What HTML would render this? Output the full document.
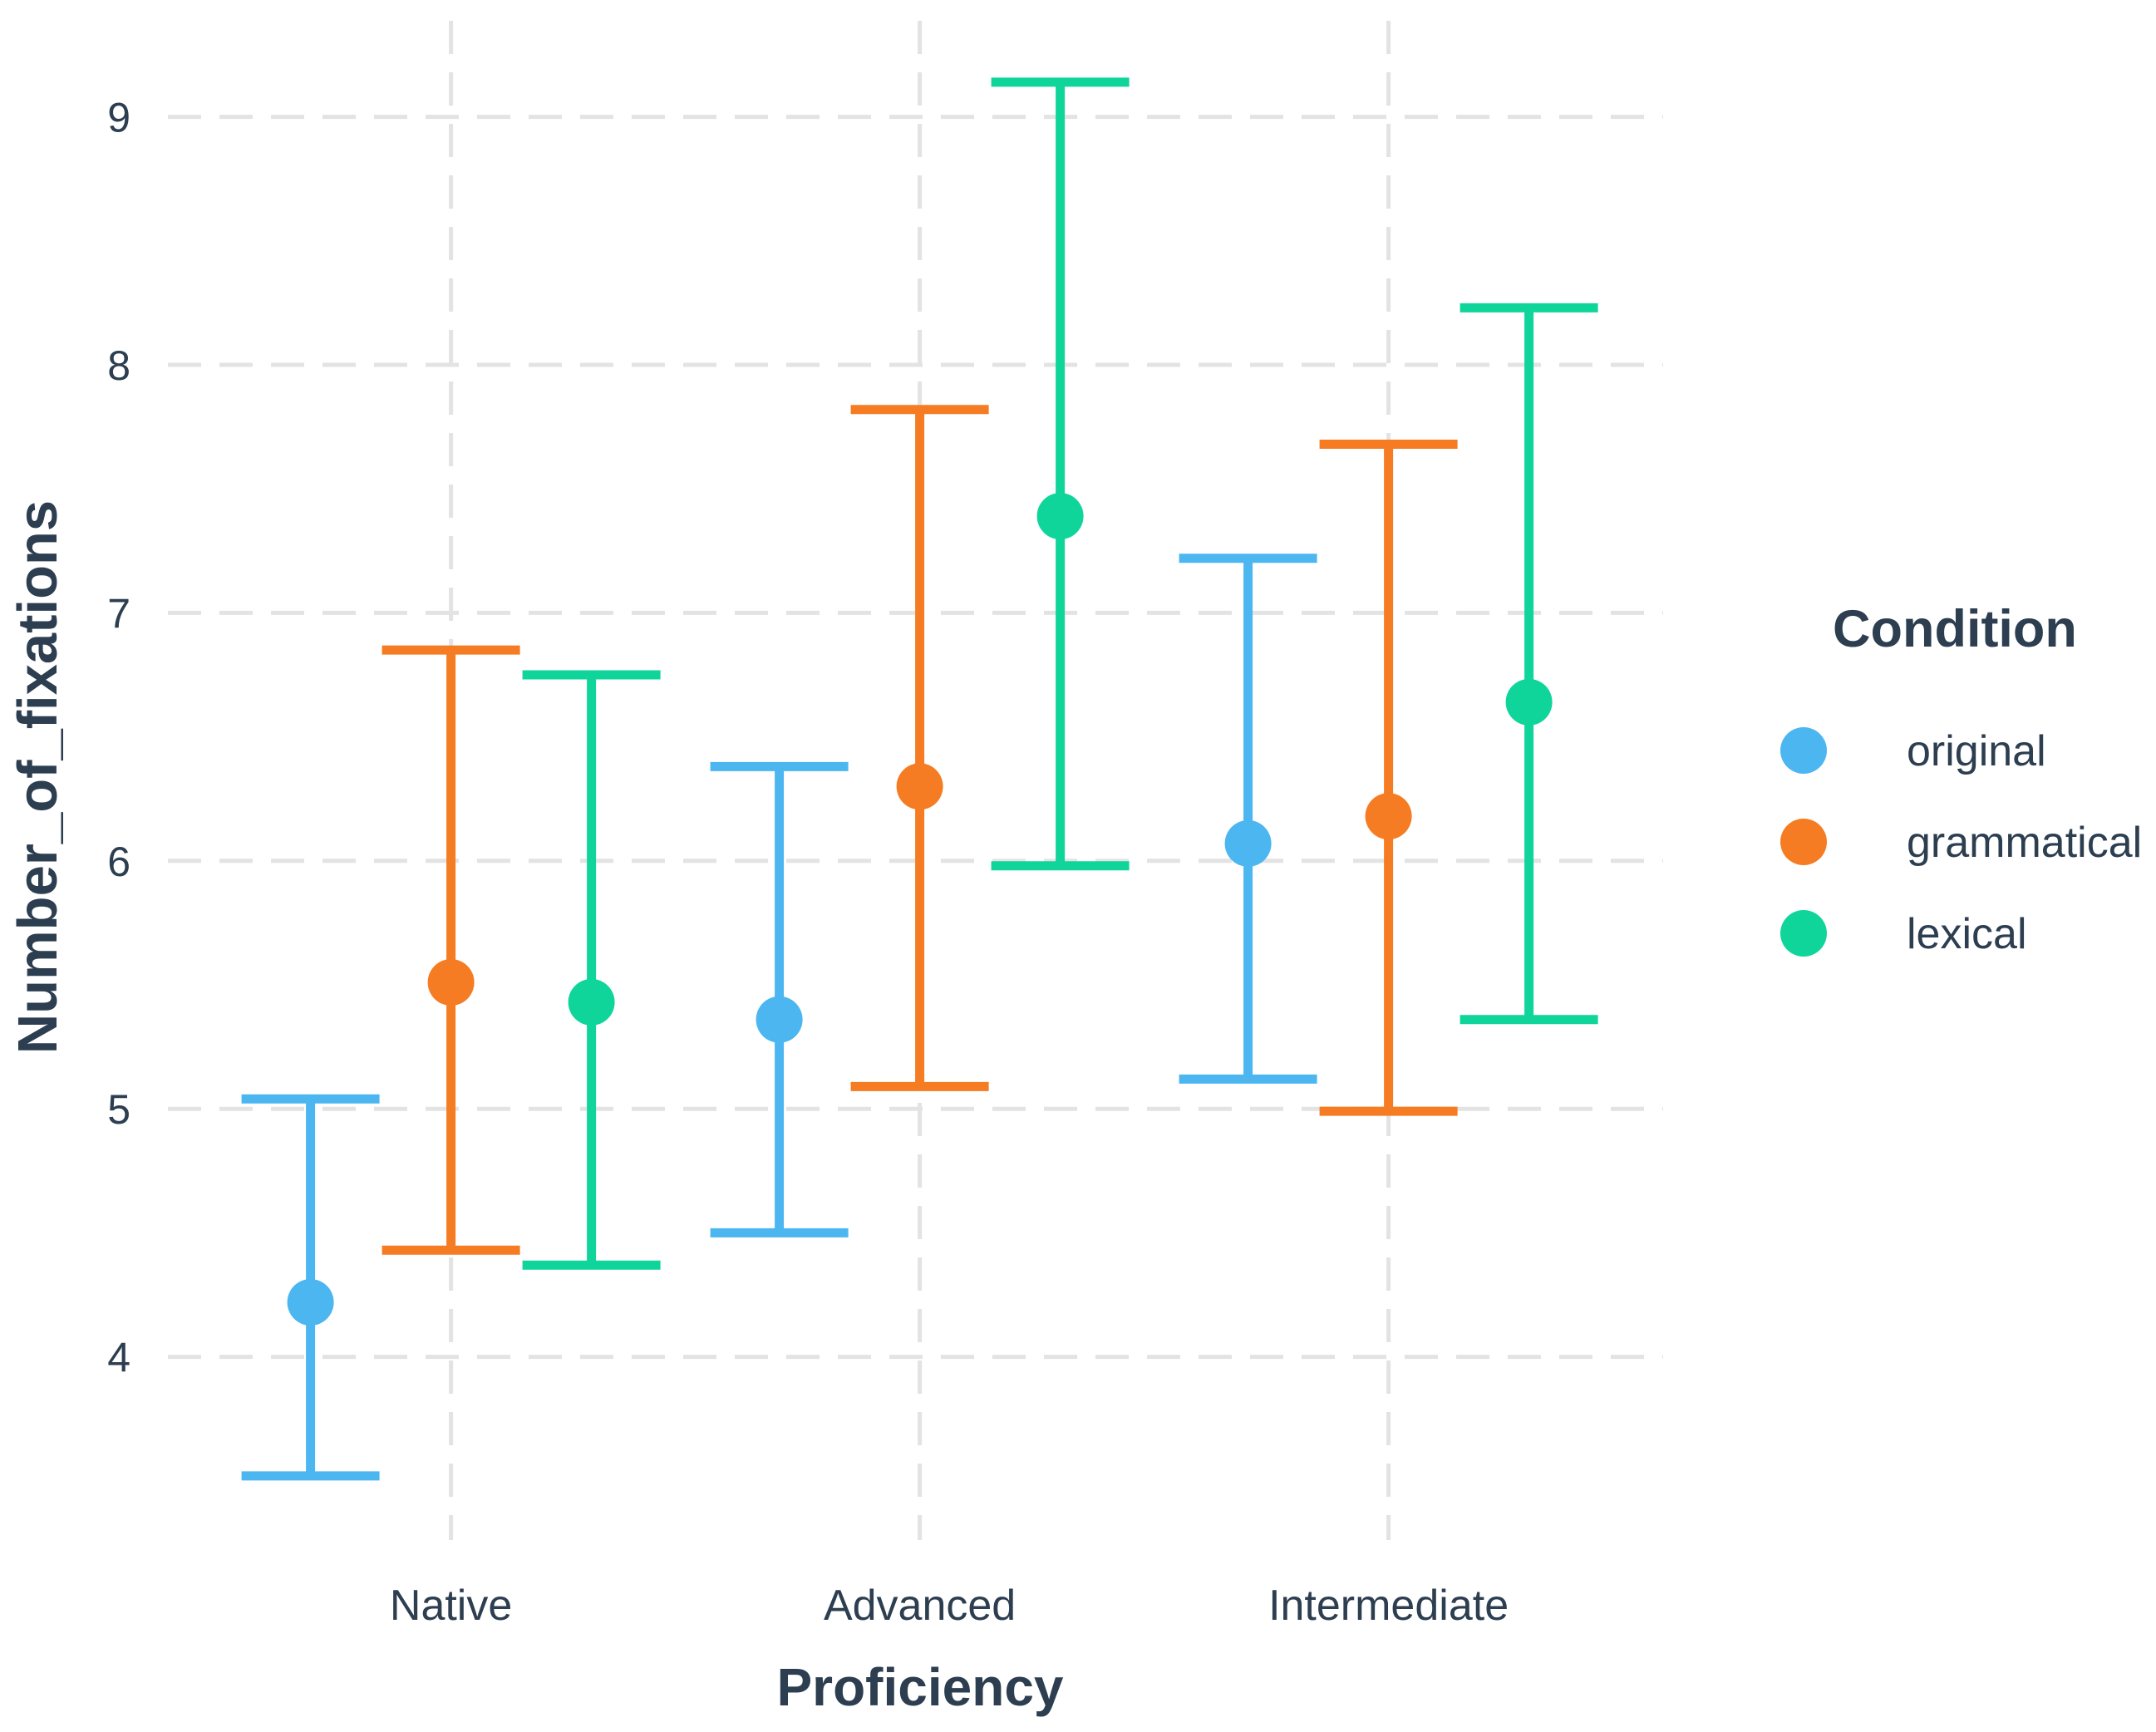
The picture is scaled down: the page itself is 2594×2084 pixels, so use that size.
<!DOCTYPE html>
<html><head><meta charset="utf-8"><style>
html,body{margin:0;padding:0;background:#fff;}
svg{display:block;font-family:"Liberation Sans",Arial,sans-serif;}
</style></head><body>
<svg id="chart" width="2594" height="2084" viewBox="0 0 2594 2084">
<g id="grid"></g><g id="marks"></g><g id="axes"></g>
<text x="1107" y="2052" text-anchor="middle" font-size="64" font-weight="bold" fill="#2c3e50">Proficiency</text>
<text transform="translate(68,935) rotate(-90)" text-anchor="middle" font-size="67" font-weight="bold" fill="#2c3e50">Number_of_fixations</text>
<g>
<text x="2205" y="778" font-size="63" font-weight="bold" fill="#2c3e50">Condition</text>
<g id="legend"></g>
</g>
</svg>
<script>
const categories=["Native","Advanced","Intermediate"];
const conditions=["original","grammatical","lexical"];
const colors=["#4cb6f0","#f57c22","#10d59b"];
const meanOriginal=[4.22,5.36,6.07];
const lowOriginal=[3.52,4.50,5.12];
const highOriginal=[5.04,6.38,7.22];
const meanGrammatical=[5.51,6.30,6.18];
const lowGrammatical=[4.43,5.09,4.99];
const highGrammatical=[6.85,7.82,7.68];
const meanLexical=[5.43,7.39,6.64];
const lowLexical=[4.37,5.98,5.36];
const highLexical=[6.75,9.14,8.23];
const yTicks=[4,5,6,7,8,9];

const NS="http://www.w3.org/2000/svg";
function y(v){return 140.6+(9-v)*298.4;}
function x(i){return 542.6+i*564;}
const dodge=169, cap=83;
function mk(tag,attrs,parent){const e=document.createElementNS(NS,tag);for(const k in attrs)e.setAttribute(k,attrs[k]);parent.appendChild(e);return e;}
const grid=document.getElementById('grid'),marks=document.getElementById('marks'),axes=document.getElementById('axes'),legend=document.getElementById('legend');
yTicks.forEach(t=>{
  const l=mk('line',{x1:202,x2:2001,y1:y(t),y2:y(t),stroke:'#e3e3e3','stroke-width':5,'stroke-dasharray':'40 22'},grid);
  
  
  const tx=mk('text',{x:157,y:y(t)+18,'text-anchor':'end','font-size':50,fill:'#2c3e50'},axes);
  tx.textContent=t;
  
  
});
categories.forEach((c,i)=>{
  const l=mk('line',{x1:x(i),x2:x(i),y1:25,y2:1853,stroke:'#e3e3e3','stroke-width':5,'stroke-dasharray':'40 22'},grid);
  
  
  const tx=mk('text',{x:x(i),y:1949,'text-anchor':'middle','font-size':52,fill:'#2c3e50'},axes);
  tx.textContent=c;
  
  
});
const series=[[meanOriginal,lowOriginal,highOriginal],[meanGrammatical,lowGrammatical,highGrammatical],[meanLexical,lowLexical,highLexical]];
series.forEach((s,j)=>{
  categories.forEach((c,i)=>{
    const cx=x(i)+(j-1)*dodge;
    const g=mk('g',{stroke:colors[j],'stroke-width':11,fill:colors[j]},marks);
    
    
    mk('line',{x1:cx,x2:cx,y1:y(s[1][i]),y2:y(s[2][i])},g);
    mk('line',{x1:cx-cap,x2:cx+cap,y1:y(s[1][i]),y2:y(s[1][i])},g);
    mk('line',{x1:cx-cap,x2:cx+cap,y1:y(s[2][i]),y2:y(s[2][i])},g);
    const p=mk('circle',{cx:cx,cy:y(s[0][i]),r:28,stroke:'none'},g);
    
    
  });
});
conditions.forEach((c,j)=>{
  const yy=903+j*110;
  const g=mk('g',{},legend);
  
  
  mk('circle',{cx:2170,cy:yy,r:28,fill:colors[j]},g);
  const t=mk('text',{x:2294,y:yy+18,'font-size':52,fill:'#2c3e50'},g);
  t.textContent=c;
});
</script>
</body></html>
